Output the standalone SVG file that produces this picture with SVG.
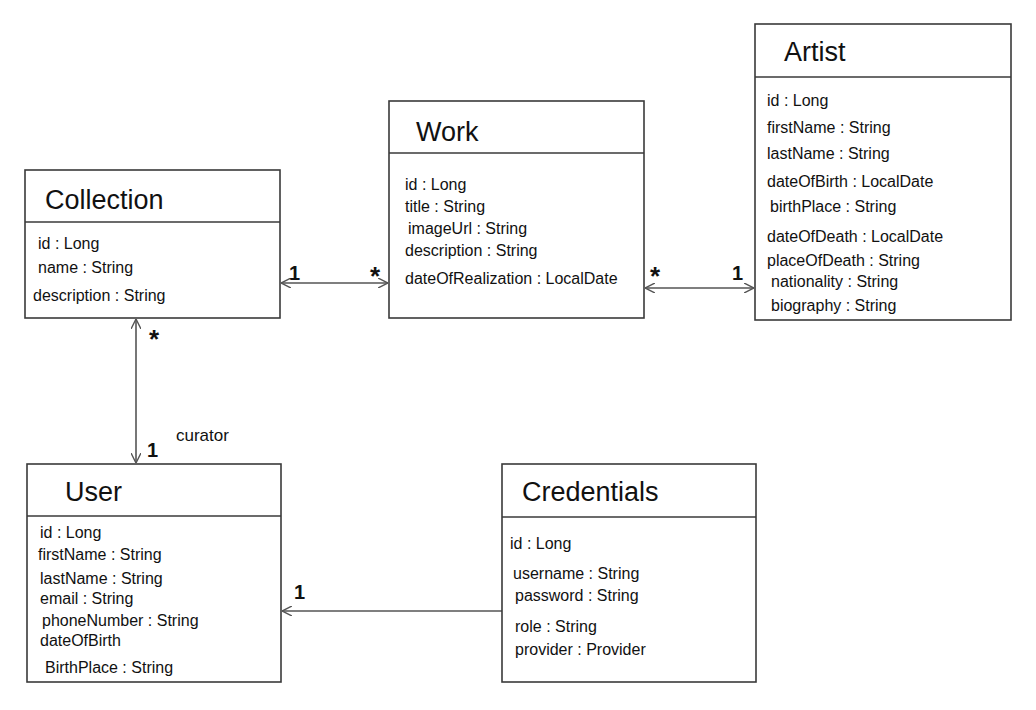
<svg xmlns="http://www.w3.org/2000/svg" width="1036" height="710" viewBox="0 0 1036 710">
<style>
.box{fill:#fff;stroke:#3a3a3a;stroke-width:1.6}
.div{stroke:#3a3a3a;stroke-width:1.6}
.title{font-family:"Liberation Sans",Arial,sans-serif;font-size:27px;fill:#111}
.attr{font-family:"Liberation Sans",Arial,sans-serif;font-size:16px;fill:#111}
.conn{stroke:#555;stroke-width:1.6;fill:none}
.mult{font-family:"Liberation Sans",Arial,sans-serif;font-size:20px;font-weight:bold;fill:#111}
.star{font-family:"Liberation Sans",Arial,sans-serif;font-size:26px;font-weight:bold;fill:#111}
.lbl{font-family:"Liberation Sans",Arial,sans-serif;font-size:17px;fill:#111}
</style>
<defs>
<marker id="arr" viewBox="0 0 10 10" refX="10" refY="5" markerWidth="10" markerHeight="10" markerUnits="userSpaceOnUse" orient="auto-start-reverse">
<path d="M0,0 L10,5 L0,10" fill="none" stroke="#555" stroke-width="1.4"/>
</marker>
</defs>
<rect width="1036" height="710" fill="#fff"/>
<g id="connectors">
<line class="conn" x1="281" y1="283" x2="388" y2="283" marker-start="url(#arr)" marker-end="url(#arr)"/>
<line class="conn" x1="645" y1="288" x2="754" y2="288" marker-start="url(#arr)" marker-end="url(#arr)"/>
<line class="conn" x1="136" y1="319" x2="136" y2="463" marker-start="url(#arr)" marker-end="url(#arr)"/>
<line class="conn" x1="502" y1="611" x2="282" y2="611" marker-end="url(#arr)"/>
<text class="mult" x="289" y="280">1</text>
<text class="star" x="370" y="285">*</text>
<text class="star" x="650" y="285">*</text>
<text class="mult" x="732" y="280">1</text>
<text class="star" x="149" y="348">*</text>
<text class="mult" x="147" y="457">1</text>
<text class="lbl" x="176" y="441">curator</text>
<text class="mult" x="294" y="599">1</text>
</g>
<g id="collection">
<rect class="box" x="25" y="170" width="255" height="148"/>
<line class="div" x1="25" y1="222" x2="280" y2="222"/>
<text class="title" x="45" y="209">Collection</text>
<text class="attr" x="38" y="249">id : Long</text>
<text class="attr" x="38" y="273">name : String</text>
<text class="attr" x="33" y="301">description : String</text>
</g>
<g id="work">
<rect class="box" x="389" y="101" width="255" height="217"/>
<line class="div" x1="389" y1="153" x2="644" y2="153"/>
<text class="title" x="416" y="141">Work</text>
<text class="attr" x="405" y="190">id : Long</text>
<text class="attr" x="405" y="212">title : String</text>
<text class="attr" x="408" y="234">imageUrl : String</text>
<text class="attr" x="405" y="256">description : String</text>
<text class="attr" x="405" y="284">dateOfRealization : LocalDate</text>
</g>
<g id="artist">
<rect class="box" x="755" y="24" width="256" height="296"/>
<line class="div" x1="755" y1="77" x2="1011" y2="77"/>
<text class="title" x="784" y="61">Artist</text>
<text class="attr" x="767" y="106">id : Long</text>
<text class="attr" x="767" y="133">firstName : String</text>
<text class="attr" x="767" y="159">lastName : String</text>
<text class="attr" x="767" y="187">dateOfBirth : LocalDate</text>
<text class="attr" x="770" y="212">birthPlace : String</text>
<text class="attr" x="767" y="242">dateOfDeath : LocalDate</text>
<text class="attr" x="767" y="266">placeOfDeath : String</text>
<text class="attr" x="771" y="287">nationality : String</text>
<text class="attr" x="771" y="311">biography : String</text>
</g>
<g id="user">
<rect class="box" x="27" y="464" width="254" height="218"/>
<line class="div" x1="27" y1="516" x2="281" y2="516"/>
<text class="title" x="65" y="501">User</text>
<text class="attr" x="40" y="538">id : Long</text>
<text class="attr" x="38" y="560">firstName : String</text>
<text class="attr" x="40" y="584">lastName : String</text>
<text class="attr" x="40" y="604">email : String</text>
<text class="attr" x="42" y="626">phoneNumber : String</text>
<text class="attr" x="40" y="646">dateOfBirth</text>
<text class="attr" x="45" y="673">BirthPlace : String</text>
</g>
<g id="credentials">
<rect class="box" x="502" y="464" width="254" height="218"/>
<line class="div" x1="502" y1="517" x2="756" y2="517"/>
<text class="title" x="522" y="501">Credentials</text>
<text class="attr" x="510" y="549">id : Long</text>
<text class="attr" x="513" y="579">username : String</text>
<text class="attr" x="515" y="601">password : String</text>
<text class="attr" x="515" y="632">role : String</text>
<text class="attr" x="515" y="655">provider : Provider</text>
</g>
</svg>
